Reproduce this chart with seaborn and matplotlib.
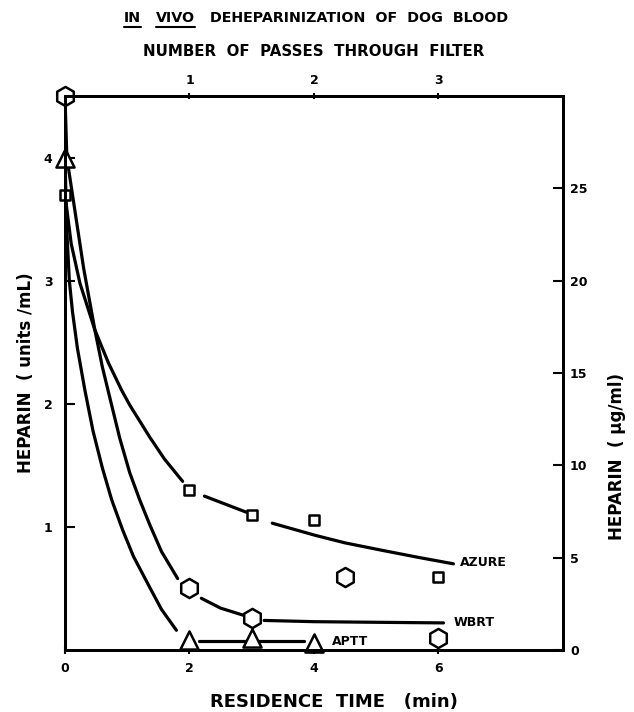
import matplotlib
matplotlib.use("Agg")
import matplotlib.pyplot as plt
import seaborn as sns
import pandas as pd
from matplotlib.lines import Line2D

# Points mesures (temps en min, heparine en units/mL)
azure_x = [0, 2, 3, 4, 6]
azure_y = [3.7, 1.30, 1.10, 1.06, 0.59]
wbrt_x = [0, 2, 3, 4.5, 6]
wbrt_y = [4.5, 0.50, 0.26, 0.59, 0.10]
aptt_x = [0, 2, 3, 4]
aptt_y = [4.0, 0.08, 0.10, 0.06]

# Courbes lissees (None = coupure du trait)
azure_curve_x = [0, 0.1, 0.24, 0.48, 0.7, 0.91, 1.04, 1.2, 1.36, 1.6, 1.89, None,
                 2.24, 2.6, 2.91, None, 3.33, 4.03, 4.5, 5.09, 5.7, 6.24]
azure_curve_y = [3.7, 3.3, 2.98, 2.6, 2.33, 2.11, 1.99, 1.86, 1.73, 1.55, 1.37, None,
                 1.25, 1.18, 1.12, None, 1.03, 0.93, 0.87, 0.81, 0.75, 0.70]
wbrt_curve_x = [0, 0.03, 0.15, 0.3, 0.48, 0.6, 0.72, 0.88, 1.04, 1.2, 1.36, 1.55, 1.81, None,
                2.19, 2.5, 2.88, None, 3.2, 4.0, 5.0, 6.08]
wbrt_curve_y = [4.5, 4.0, 3.6, 3.1, 2.6, 2.3, 2.05, 1.72, 1.44, 1.22, 1.02, 0.8, 0.58, None,
                0.42, 0.34, 0.28, None, 0.24, 0.23, 0.225, 0.22]
aptt_curve_x = [0, 0.03, 0.07, 0.12, 0.2, 0.32, 0.45, 0.6, 0.75, 0.93, 1.1, 1.36, 1.55, 1.79, None,
                2.16, 3.0, 3.84]
aptt_curve_y = [4.0, 3.4, 3.0, 2.75, 2.45, 2.11, 1.78, 1.48, 1.22, 0.97, 0.76, 0.51, 0.33, 0.16, None,
                0.076, 0.076, 0.076]

x_ticks = [0, 2, 4, 6]
left_ticks = [1, 2, 3, 4]
right_ticks = [0, 5, 10, 15, 20, 25]
pass_ticks = [1, 2, 3]


def to_segments(name, xs, ys):
    rows, seg = [], 0
    for x, y in zip(xs, ys):
        if x is None:
            seg += 1
            continue
        rows.append({'curve': name, 'seg': f'{name}{seg}', 'x': x, 'y': y})
    return rows


curves = pd.DataFrame(
    to_segments('AZURE', azure_curve_x, azure_curve_y)
    + to_segments('WBRT', wbrt_curve_x, wbrt_curve_y)
    + to_segments('APTT', aptt_curve_x, aptt_curve_y)
)

sns.set_theme(style='white')
plt.rcParams['font.family'] = ['DejaVu Sans']
plt.rcParams['font.weight'] = 'bold'
for key in ('text.color', 'axes.labelcolor', 'xtick.color', 'ytick.color'):
    plt.rcParams[key] = 'black'

fig = plt.figure(figsize=(6.34, 7.12), dpi=100)
ax = fig.add_axes([0.1025, 0.0871, 0.7855, 0.778])

sns.lineplot(data=curves, x='x', y='y', units='seg', estimator=None, sort=False,
             color='black', lw=2.3, ax=ax, legend=False)

mk = dict(color='white', edgecolor='black', linewidth=1.8, ax=ax, legend=False, zorder=5, clip_on=False)
sns.scatterplot(x=azure_x, y=azure_y, marker='s', s=55, **mk)
sns.scatterplot(x=wbrt_x, y=wbrt_y, marker='h', s=190, **mk)
sns.scatterplot(x=aptt_x, y=aptt_y, marker='^', s=170, **mk)

ax.set_xlim(0, 8)
ax.set_ylim(0, 4.5)
ax.set_xticks(x_ticks)
ax.set_yticks(left_ticks)
ax.tick_params(axis='x', direction='inout', length=6, width=1.5, labelsize=9, pad=6)
ax.tick_params(axis='y', direction='in', length=7, width=1.5, labelsize=9, pad=9)
for s in ax.spines.values():
    s.set_linewidth(2)
    s.set_color('black')

ax.set_xlabel('RESIDENCE  TIME   (min)', fontsize=13, fontweight='bold')
ax.xaxis.set_label_coords(0.541, -0.078)
ax.set_ylabel('HEPARIN  ( units /mL)', fontsize=12, fontweight='bold')
ax.yaxis.set_label_coords(-0.06, 0.5)

ax2 = ax.twinx()
ax2.set_ylim(0, 30)
ax2.set_yticks(right_ticks)
ax2.tick_params(axis='y', direction='in', length=7, width=1.5, labelsize=9, pad=5)
ax2.set_ylabel('HEPARIN  ( μg/ml)', fontsize=12, fontweight='bold', rotation=90)
ax2.yaxis.set_label_coords(1.09, 0.35)

ax3 = ax.twiny()
ax3.set_xlim(0, 4)
ax3.set_xticks(pass_ticks)
ax3.tick_params(axis='x', direction='inout', length=5, width=1.5, labelsize=9, pad=4)
ax3.set_xlabel('NUMBER  OF  PASSES  THROUGH  FILTER', fontsize=10.8, fontweight='bold', labelpad=13)
for a in (ax2, ax3):
    for s in a.spines.values():
        s.set_linewidth(2)
        s.set_color('black')

ax.text(6.35, 0.707, 'AZURE', fontsize=9, fontweight='bold', va='center')
ax.text(6.24, 0.227, 'WBRT', fontsize=9, fontweight='bold', va='center')
ax.text(4.29, 0.065, 'APTT', fontsize=9, fontweight='bold', va='center')

# Titre avec IN et VIVO soulignes
fig.canvas.draw()
r = fig.canvas.get_renderer()
pieces = [('IN', True), ('VIVO', True), ('DEHEPARINIZATION  OF  DOG  BLOOD', False)]
texts = []
for p, _ in pieces:
    texts.append(fig.text(0, 1 - 18 / 712, p, fontsize=10.3, fontweight='bold', va='center', ha='left'))
gap = 15 / 634
widths = [t.get_window_extent(r).width / 634 for t in texts]
total = sum(widths) + gap * (len(widths) - 1)
x0 = 316 / 634 - total / 2
for (p, ul), t, w in zip(pieces, texts, widths):
    t.set_x(x0)
    if ul:
        yb = 1 - 27 / 712
        fig.add_artist(Line2D([x0, x0 + w], [yb, yb], color='black', lw=1.5, transform=fig.transFigure))
    x0 += w + gap

fig.savefig('out.png', dpi=100)
